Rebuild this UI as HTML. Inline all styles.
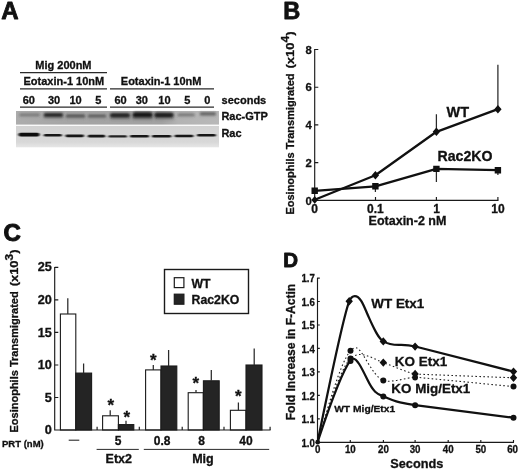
<!DOCTYPE html>
<html>
<head>
<meta charset="utf-8">
<title>Figure</title>
<style>
html,body{margin:0;padding:0;background:#fff;}
body{width:520px;height:470px;overflow:hidden;font-family:"Liberation Sans",sans-serif;}
svg{display:block;filter:blur(0.35px);}
text{font-family:"Liberation Sans",sans-serif;font-weight:bold;fill:#111;stroke:#111;stroke-width:0.3;}
.pl{stroke-width:0.9;stroke-linejoin:round;}
.ax{stroke:#1a1a1a;stroke-width:1.15;fill:none;}
.thin{stroke:#2a2a2a;stroke-width:1.25;fill:none;}
.thick{stroke:#111;stroke-width:2.25;fill:none;stroke-linejoin:round;stroke-linecap:round;}
.dot{stroke:#222;stroke-width:1.1;fill:none;stroke-dasharray:1.6 2.4;}
.mk{fill:#111;stroke:none;}
</style>
</head>
<body>
<svg width="520" height="470" viewBox="0 0 520 470">
<defs>
<filter id="b1" x="-5%" y="-80%" width="110%" height="260%"><feGaussianBlur stdDeviation="1 0.8"/></filter>
<filter id="b2" x="-5%" y="-80%" width="110%" height="260%"><feGaussianBlur stdDeviation="0.9 0.6"/></filter>
<linearGradient id="gtpbg" x1="0" y1="0" x2="1" y2="0"><stop offset="0" stop-color="#acacac"/><stop offset="0.25" stop-color="#a5a5a5"/><stop offset="0.72" stop-color="#a1a1a1"/><stop offset="0.8" stop-color="#b3b3b3"/><stop offset="1" stop-color="#b8b8b8"/></linearGradient>
<linearGradient id="racbg" x1="0" y1="0" x2="0" y2="1"><stop offset="0" stop-color="#d2d2d2"/><stop offset="0.75" stop-color="#d8d8d8"/><stop offset="1" stop-color="#e6e6e6"/></linearGradient>
<filter id="soft"><feGaussianBlur stdDeviation="0.35"/></filter>
</defs>
<rect x="0" y="0" width="520" height="470" fill="#ffffff"/>

<!-- ================= PANEL A ================= -->
<g id="panelA">
<text class="pl" x="1.3" y="19.4" font-size="24" style="stroke-width:0.8">A</text>

<text x="35.3" y="68.7" font-size="11">Mig 200nM</text>
<line class="thin" x1="20" y1="72.5" x2="107" y2="72.5"/>
<text x="23.5" y="84.6" font-size="11">Eotaxin-1 10nM</text>
<line class="thin" x1="20" y1="88.8" x2="107" y2="88.8"/>
<text x="120.8" y="84.6" font-size="11">Eotaxin-1 10nM</text>
<line class="thin" x1="110" y1="88.8" x2="214" y2="88.8"/>

<g font-size="11" text-anchor="middle">
<text x="28.8" y="103.6">60</text>
<text x="54" y="103.6">30</text>
<text x="75.5" y="103.6">10</text>
<text x="98.4" y="103.6">5</text>
<text x="120.5" y="103.6">60</text>
<text x="141.8" y="103.6">30</text>
<text x="164.4" y="103.6">10</text>
<text x="187.2" y="103.6">5</text>
<text x="207.3" y="103.6">0</text>
</g>
<line class="thin" x1="20" y1="107" x2="107" y2="107"/>
<line class="thin" x1="110" y1="107" x2="214" y2="107"/>
<text x="221.6" y="104.2" font-size="11">seconds</text>
<text x="221.4" y="120" font-size="11">Rac-GTP</text>
<text x="221.4" y="137.1" font-size="11">Rac</text>

<!-- blot strips -->
<rect x="16" y="111" width="203" height="13.6" fill="url(#gtpbg)"/>
<rect x="16" y="125.9" width="203" height="21.4" fill="url(#racbg)"/>
<g filter="url(#b1)">
<rect x="43" y="113.5" width="21.0" height="5.5" rx="2" fill="#4a4a4a" opacity="0.24"/>
<rect x="65.5" y="114.8" width="20.0" height="4.5" rx="2" fill="#4a4a4a" opacity="0.20"/>
<rect x="87.5" y="114.8" width="19.0" height="4.5" rx="2" fill="#4a4a4a" opacity="0.20"/>
<rect x="109.5" y="113.5" width="21.5" height="6.5" rx="2" fill="#4a4a4a" opacity="0.28"/>
<rect x="132" y="112.8" width="21.0" height="7.5" rx="2" fill="#4a4a4a" opacity="0.32"/>
<rect x="154" y="113" width="20.5" height="7" rx="2" fill="#4a4a4a" opacity="0.29"/>
<rect x="177" y="113.6" width="18.0" height="3.6" rx="2" fill="#4a4a4a" opacity="0.17"/>
<rect x="199.5" y="112.4" width="17.0" height="4.4" rx="2" fill="#4a4a4a" opacity="0.21"/>
<rect x="19" y="113.6" width="21.0" height="3.6" rx="2" fill="#4a4a4a" opacity="0.14"/>
</g>
<g filter="url(#b1)">
<rect x="19.5" y="113.70" width="20.1" height="2.0" rx="1.0" fill="#555" opacity="0.6"/>
<rect x="43.8" y="112.90" width="19.2" height="4.0" rx="2.0" fill="#2a2a2a" opacity="1"/>
<rect x="66" y="114.60" width="19.0" height="2.6" rx="1.3" fill="#444" opacity="0.85"/>
<rect x="88" y="114.70" width="18.0" height="2.4" rx="1.2" fill="#484848" opacity="0.8"/>
<rect x="110" y="113.20" width="20.0" height="4.2" rx="2.1" fill="#222" opacity="1"/>
<rect x="132.8" y="112.30" width="19.5" height="5.2" rx="2.6" fill="#151515" opacity="1"/>
<rect x="154.4" y="112.80" width="19.1" height="4.6" rx="2.3" fill="#1e1e1e" opacity="1"/>
<rect x="177.7" y="113.70" width="16.9" height="2" rx="1" fill="#5a5a5a" opacity="0.7"/>
<rect x="200" y="112.40" width="15.8" height="2.6" rx="1.3" fill="#4a4a4a" opacity="0.8"/>
</g>
<g filter="url(#b2)">
<rect x="18.5" y="132.70" width="21.1" height="3.8" rx="1.9" fill="#0c0c0c"/>
<rect x="43.8" y="133.95" width="18.0" height="2.5" rx="1.25" fill="#161616"/>
<rect x="65.4" y="134.45" width="18.6" height="2.7" rx="1.35" fill="#141414"/>
<rect x="87.8" y="134.85" width="17.4" height="2.7" rx="1.35" fill="#161616"/>
<rect x="108.4" y="135.20" width="18.6" height="2.4" rx="1.2" fill="#242424"/>
<rect x="130" y="135.00" width="19.0" height="2.6" rx="1.3" fill="#161616"/>
<rect x="152" y="135.00" width="19.3" height="2.6" rx="1.3" fill="#161616"/>
<rect x="174.5" y="134.70" width="19.0" height="2.6" rx="1.3" fill="#161616"/>
<rect x="197" y="134.05" width="18.8" height="2.5" rx="1.25" fill="#181818"/>
</g>
</g>

<!-- ================= PANEL B ================= -->
<g id="panelB">
<text class="pl" x="283.2" y="19.4" font-size="23.6" style="stroke-width:0.8">B</text>
<!-- axes -->
<path class="ax" d="M314.7 49 V200.3 H498.5"/>
<path class="ax" d="M314.7 49.5 h3.6 M314.7 87.2 h3.6 M314.7 124.9 h3.6 M314.7 162.6 h3.6"/>
<path class="ax" d="M375.5 200.3 v-3.4 M436.4 200.3 v-3.4 M497.9 200.3 v-3.4"/>
<g font-size="11.3" text-anchor="end">
<text x="311.8" y="53.7">8</text>
<text x="311.8" y="91.4">6</text>
<text x="311.8" y="129.1">4</text>
<text x="311.8" y="167.2">2</text>
<text x="311.8" y="204.5">0</text>
</g>
<g font-size="12" text-anchor="middle">
<text x="314.5" y="213.1">0</text>
<text x="375.3" y="213.1">0.1</text>
<text x="436.6" y="213.1">1</text>
<text x="498" y="213.1">10</text>
</g>
<text x="368.6" y="225.1" font-size="12.4" textLength="77.8" lengthAdjust="spacingAndGlyphs">Eotaxin-2 nM</text>
<text transform="translate(294.3 214.6) rotate(-90)" font-size="11.5" textLength="141.2" lengthAdjust="spacingAndGlyphs">Eosinophils Transmigrated</text>
<text transform="translate(294.3 68.5) rotate(-90)" font-size="11.5" textLength="37" lengthAdjust="spacingAndGlyphs">(x10<tspan font-size="10.6" dy="-5">4</tspan><tspan dy="5">)</tspan></text>
<!-- error bars -->
<path class="thin" d="M436.4 131.8 V114.2 M497.9 109.2 V64.7 M375.4 186.3 V192 M436.4 168.9 V182 M497.9 170 V175"/>
<!-- WT line -->
<path class="thick" style="stroke-width:2.3" d="M314.7 199.7 L375.4 175.2 L436.4 131.8 L497.9 109.2"/>
<path class="thick" style="stroke-width:2.3" d="M314.7 190.8 L375.4 186.3 L436.4 168.9 L497.9 170.2"/>
<!-- diamonds -->
<path class="mk" d="M314.7 196 l3.3 3.9 l-3.3 3.9 l-3.3 -3.9z M375.4 171 l3.7 4.2 l-3.7 4.2 l-3.7 -4.2z M436.4 127.6 l3.7 4.2 l-3.7 4.2 l-3.7 -4.2z M497.9 105 l3.7 4.2 l-3.7 4.2 l-3.7 -4.2z"/>
<!-- squares -->
<path class="mk" d="M311.5 187.6 h6.4 v6.4 h-6.4z M372.2 183.1 h6.4 v6.4 h-6.4z M433.2 165.7 h6.4 v6.4 h-6.4z M494.7 167 h6.4 v6.4 h-6.4z"/>
<text x="446.5" y="116.7" font-size="14" textLength="22.5" lengthAdjust="spacingAndGlyphs">WT</text>
<text x="437.5" y="161.2" font-size="14" textLength="55" lengthAdjust="spacingAndGlyphs">Rac2KO</text>
</g>

<!-- ================= PANEL C ================= -->
<g id="panelC">
<text class="pl" x="3.4" y="240.5" font-size="24" style="stroke-width:1">C</text>
<!-- bars -->
<g stroke="#1a1a1a" stroke-width="1.1">
<rect x="60.4" y="314" width="15.4" height="116" fill="#fff"/>
<rect x="75.8" y="373.1" width="15.8" height="56.9" fill="#242424"/>
<rect x="102.6" y="415.8" width="15.8" height="14.2" fill="#fff"/>
<rect x="118.4" y="424.6" width="15.4" height="5.4" fill="#242424"/>
<rect x="145.6" y="369.9" width="15.4" height="60.1" fill="#fff"/>
<rect x="161" y="366" width="15.8" height="64" fill="#242424"/>
<rect x="188.2" y="392.7" width="15.1" height="37.3" fill="#fff"/>
<rect x="203.4" y="380.8" width="15.8" height="49.2" fill="#242424"/>
<rect x="230.4" y="410.3" width="15.6" height="19.7" fill="#fff"/>
<rect x="246" y="365" width="16" height="65" fill="#242424"/>
</g>
<!-- error bars -->
<path class="thin" d="M67.8 314 V298.3 M83.6 373 V363.6 M110.2 415.8 V410.3 M126 424.6 V420.8 M153.3 369.9 V365 M168.6 366 V350 M196 392.7 V390 M211.3 380.8 V370 M238.4 410.3 V402.5 M254.2 365 V348.5"/>
<!-- axes -->
<path class="ax" d="M54.7 267 V430 H270.6"/>
<path class="ax" d="M54.7 267.3 h3.6 M54.7 299.8 h3.6 M54.7 332.4 h3.6 M54.7 365 h3.6 M54.7 397.5 h3.6"/>
<path class="ax" d="M97.1 430 v-3.2 M139.3 430 v-3.2 M182.2 430 v-3.2 M224 430 v-3.2 M270.1 430 v-3.2"/>
<g font-size="12" text-anchor="end">
<text transform="translate(51.8 271.3) scale(1.06 1)">25</text>
<text transform="translate(51.8 303.9) scale(1.06 1)">20</text>
<text transform="translate(51.8 336.5) scale(1.06 1)">15</text>
<text transform="translate(51.8 369.1) scale(1.06 1)">10</text>
<text transform="translate(51.8 401.7) scale(1.06 1)">5</text>
<text transform="translate(51.8 434.3) scale(1.06 1)">0</text>
</g>
<text transform="translate(18.3 432.5) rotate(-90)" font-size="11.5" textLength="141.2" lengthAdjust="spacingAndGlyphs">Eosinophils Transmigrated</text>
<text transform="translate(18.3 286.3) rotate(-90)" font-size="11.5" textLength="36.8" lengthAdjust="spacingAndGlyphs">(x10<tspan font-size="10.6" dy="-5">3</tspan><tspan dy="5">)</tspan></text>
<!-- asterisks -->
<g font-size="17" text-anchor="middle" style="stroke-width:0.25;font-weight:normal">
<text x="110.8" y="410.7">*</text>
<text x="126.8" y="422.8">*</text>
<text x="153.3" y="365.8">*</text>
<text x="195.9" y="389">*</text>
<text x="238.4" y="402.2">*</text>
</g>
<!-- x labels -->
<line class="thin" x1="68.7" y1="440.2" x2="79.3" y2="440.2" style="stroke-width:1.1;stroke:#2a2a2a"/>
<g font-size="12" text-anchor="middle">
<text x="118" y="444.8">5</text>
<text x="162.2" y="444.8">0.8</text>
<text x="201.5" y="444.8">8</text>
<text x="246" y="444.8">40</text>
</g>
<text x="2" y="447.2" font-size="9.6" textLength="41.8" lengthAdjust="spacingAndGlyphs">PRT (nM)</text>
<line class="thin" x1="96.6" y1="449.4" x2="138.8" y2="449.4" style="stroke-width:1"/>
<line class="thin" x1="143.8" y1="449.4" x2="269.2" y2="449.4" style="stroke-width:1"/>
<text x="105.6" y="463" font-size="12.5">Etx2</text>
<text x="192.2" y="463" font-size="12.5">Mig</text>
<!-- legend -->
<rect x="164.5" y="269.5" width="84" height="44" fill="#fff" stroke="#1a1a1a" stroke-width="1.4"/>
<rect x="174.3" y="277.7" width="9.6" height="9.9" fill="#fff" stroke="#1a1a1a" stroke-width="1.2"/>
<rect x="174.3" y="294.2" width="9.6" height="10" fill="#242424" stroke="#1a1a1a" stroke-width="1.2"/>
<text x="191.5" y="287.5" font-size="12.3">WT</text>
<text x="191.5" y="304.4" font-size="12.3">Rac2KO</text>
</g>

<!-- ================= PANEL D ================= -->
<g id="panelD">
<text class="pl" x="283.2" y="267.4" font-size="20.5" textLength="14.8" lengthAdjust="spacingAndGlyphs">D</text>
<!-- axes -->
<path class="ax" d="M317.5 277.8 V442.3 H514"/>
<path class="ax" d="M317.5 278.1 h2.3 M317.5 301.5 h2.3 M317.5 325 h2.3 M317.5 348.4 h2.3 M317.5 371.9 h2.3 M317.5 395.4 h2.3 M317.5 418.8 h2.3"/>
<path class="ax" d="M350.3 442.3 v-2.3 M383.4 442.3 v-2.3 M415.1 442.3 v-2.3 M448.2 442.3 v-2.3 M480.8 442.3 v-2.3 M513.5 442.3 v-2.3"/>
<g font-size="10.6" text-anchor="end">
<text transform="translate(314.8 282.3) scale(0.91 1)">1.7</text>
<text transform="translate(314.8 305.7) scale(0.91 1)">1.6</text>
<text transform="translate(314.8 329.2) scale(0.91 1)">1.5</text>
<text transform="translate(314.8 352.6) scale(0.91 1)">1.4</text>
<text transform="translate(314.8 376.1) scale(0.91 1)">1.3</text>
<text transform="translate(314.8 399.5) scale(0.91 1)">1.2</text>
<text transform="translate(314.8 423.0) scale(0.91 1)">1.1</text>
<text transform="translate(314.8 446.5) scale(0.91 1)">1.0</text>
</g>
<g font-size="10.6" text-anchor="middle">
<text transform="translate(317.7 452.8) scale(0.92 1)">0</text>
<text transform="translate(350.3 452.8) scale(0.92 1)">10</text>
<text transform="translate(383.4 452.8) scale(0.92 1)">20</text>
<text transform="translate(415.1 452.8) scale(0.92 1)">30</text>
<text transform="translate(448.2 452.8) scale(0.92 1)">40</text>
<text transform="translate(480.8 452.8) scale(0.92 1)">50</text>
<text transform="translate(512.6 452.8) scale(0.92 1)">60</text>
</g>
<text x="390.3" y="467.7" font-size="12.2" textLength="53" lengthAdjust="spacingAndGlyphs">Seconds</text>
<text transform="translate(294.6 420.3) rotate(-90)" font-size="12" textLength="136.5" lengthAdjust="spacingAndGlyphs">Fold Increase in F-Actin</text>
<!-- dotted curves -->
<path class="dot" d="M317.5 442.3 C325 419 339 364 350.5 350.8 C352 349 354 347.8 356 347.8 C362 347.8 372 376 383.3 380.5 C392 383 405 378 415.1 377.1 L513.5 386.6"/>
<path class="dot" d="M317.5 442.3 C325 420 339 370 350.5 358.3 C354 355.5 357 354.5 360 354.5 C368 354.5 376 360 383.3 362.6 C394 366.5 405 371.5 415.1 374.1 L513.5 377.8"/>
<!-- solid curves -->
<path class="thick" d="M317.5 442.3 C327 395.7 342.5 319 349.2 301.3 C350.8 297.3 352.5 296 354.8 296 C361 296 364.5 308 369.3 318.4 S378 338 383.3 341.4 C388 344.2 395 345 400 344.9 C406 344.8 411 345.4 415.3 346.5 C440 352.8 480 363 513.5 371.6"/>
<path class="thick" d="M317.5 442.3 C325 420 340 374 350.5 360.4 C351.5 359.4 352 358.6 353 358.6 C357 358.6 361 366.5 367.6 380.1 S378 394 383.3 396.3 C389 399 395 401.3 400 402.4 C406 403.6 411 404.5 415.1 405.2 L513.5 417.7"/>
<!-- markers: diamonds -->
<path class="mk" d="M349.2 297.1 l3.7 4.2 l-3.7 4.2 l-3.7 -4.2z M383.3 337.2 l3.7 4.2 l-3.7 4.2 l-3.7 -4.2z M415.1 342.4 l3.7 4.2 l-3.7 4.2 l-3.7 -4.2z M513.5 367.4 l3.7 4.2 l-3.7 4.2 l-3.7 -4.2z"/>
<path class="mk" d="M383.3 358.4 l3.7 4.2 l-3.7 4.2 l-3.7 -4.2z M415.1 369.7 l3.7 4.2 l-3.7 4.2 l-3.7 -4.2z M513.5 373.6 l3.7 4.2 l-3.7 4.2 l-3.7 -4.2z"/>
<!-- markers: circles -->
<g class="mk">
<circle cx="317.7" cy="442.2" r="2.4"/>
<circle cx="350.5" cy="350.8" r="3"/>
<circle cx="350.5" cy="358.6" r="3"/>
<circle cx="350.5" cy="361" r="3"/>
<circle cx="383.3" cy="380.5" r="3"/>
<circle cx="383.3" cy="396.5" r="3"/>
<circle cx="415.1" cy="377.5" r="2.9"/>
<circle cx="415.1" cy="405.2" r="3"/>
<circle cx="513.5" cy="386.6" r="3"/>
<circle cx="513.5" cy="417.7" r="3"/>
</g>
<text x="371.3" y="307.8" font-size="13.5" textLength="53" lengthAdjust="spacingAndGlyphs">WT Etx1</text>
<text x="394.8" y="365.6" font-size="13.5" textLength="52.5" lengthAdjust="spacingAndGlyphs">KO Etx1</text>
<text x="391.3" y="393.2" font-size="13.5" textLength="79" lengthAdjust="spacingAndGlyphs">KO Mig/Etx1</text>
<text x="334.2" y="412.4" font-size="9.6" textLength="61" lengthAdjust="spacingAndGlyphs">WT Mig/Etx1</text>
</g>

</svg>
</body>
</html>
